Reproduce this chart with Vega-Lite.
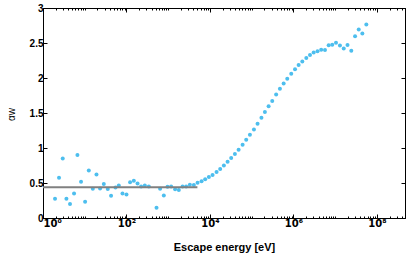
{
  "$schema": "https://vega.github.io/schema/vega-lite/v6.json",
  "width": 362,
  "height": 210,
  "autosize": {"type": "none"},
  "padding": {"left": 43, "top": 8, "right": 10, "bottom": 39},
  "config": {
    "view": {"stroke": "#000000", "strokeWidth": 1},
    "axis": {
      "grid": false,
      "domainColor": "#000000",
      "domainWidth": 1,
      "tickColor": "#000000",
      "labelColor": "#000000",
      "titleColor": "#000000",
      "labelFont": "Liberation Sans",
      "titleFont": "Liberation Sans",
      "labelFontSize": 10,
      "labelFontWeight": "bold",
      "titleFontSize": 11,
      "titleFontWeight": "bold"
    }
  },
  "datasets": {
    "pts": [
      {"E": 1.94, "a": 0.276}, {"E": 2.42, "a": 0.576}, {"E": 2.97, "a": 0.851}, {"E": 3.64, "a": 0.276},
      {"E": 4.44, "a": 0.2}, {"E": 5.54, "a": 0.351}, {"E": 6.68, "a": 0.9}, {"E": 8.15, "a": 0.519},
      {"E": 10.2, "a": 0.233}, {"E": 12.5, "a": 0.68}, {"E": 15.6, "a": 0.419}, {"E": 19.1, "a": 0.623},
      {"E": 23.3, "a": 0.423}, {"E": 28.6, "a": 0.486}, {"E": 35.6, "a": 0.414}, {"E": 42.7, "a": 0.319},
      {"E": 54.5, "a": 0.437}, {"E": 65.4, "a": 0.466}, {"E": 80.2, "a": 0.351}, {"E": 100, "a": 0.337},
      {"E": 122, "a": 0.509}, {"E": 150, "a": 0.533}, {"E": 184, "a": 0.494}, {"E": 224, "a": 0.451},
      {"E": 275, "a": 0.466}, {"E": 343, "a": 0.451}, {"E": 524, "a": 0.147}, {"E": 639, "a": 0.419},
      {"E": 784, "a": 0.323}, {"E": 962, "a": 0.447}, {"E": 1175, "a": 0.451}, {"E": 1463, "a": 0.409},
      {"E": 1795, "a": 0.4}, {"E": 2203, "a": 0.451}, {"E": 2687, "a": 0.451}, {"E": 3297, "a": 0.476},
      {"E": 4111, "a": 0.471}, {"E": 5045, "a": 0.504}, {"E": 6292, "a": 0.526}, {"E": 7674, "a": 0.554},
      {"E": 9418, "a": 0.587}, {"E": 11540, "a": 0.614}, {"E": 14390, "a": 0.657}, {"E": 17570, "a": 0.7},
      {"E": 21540, "a": 0.751}, {"E": 26420, "a": 0.804}, {"E": 32230, "a": 0.857}, {"E": 39540, "a": 0.914},
      {"E": 48510, "a": 0.976}, {"E": 60530, "a": 1.047}, {"E": 73840, "a": 1.119}, {"E": 90570, "a": 1.19},
      {"E": 113000, "a": 1.266}, {"E": 138000, "a": 1.347}, {"E": 171000, "a": 1.433}, {"E": 207000, "a": 1.514},
      {"E": 254000, "a": 1.597}, {"E": 310000, "a": 1.673}, {"E": 385000, "a": 1.764}, {"E": 474000, "a": 1.847},
      {"E": 582000, "a": 1.923}, {"E": 710000, "a": 1.99}, {"E": 885000, "a": 2.061}, {"E": 1090000, "a": 2.126},
      {"E": 1330000, "a": 2.186}, {"E": 1630000, "a": 2.237}, {"E": 2030000, "a": 2.286}, {"E": 2490000, "a": 2.329},
      {"E": 3050000, "a": 2.364}, {"E": 3770000, "a": 2.383}, {"E": 4620000, "a": 2.404}, {"E": 5690000, "a": 2.4},
      {"E": 6980000, "a": 2.469}, {"E": 8510000, "a": 2.476}, {"E": 10450000, "a": 2.504}, {"E": 13000000, "a": 2.466},
      {"E": 16000000, "a": 2.421}, {"E": 19700000, "a": 2.473}, {"E": 24300000, "a": 2.39}, {"E": 29900000, "a": 2.597},
      {"E": 36600000, "a": 2.694}, {"E": 44700000, "a": 2.637}, {"E": 55700000, "a": 2.764}
    ],
    "fit": [{"E": 1, "a": 0.44}, {"E": 5000, "a": 0.44}]
  },
  "resolve": {"axis": {"x": "independent", "y": "independent"}},
  "layer": [
    {
      "data": {"name": "pts"},
      "mark": {"type": "circle", "color": "#4DBEEE", "opacity": 1, "size": 16},
      "encoding": {
        "x": {
          "field": "E", "type": "quantitative",
          "scale": {"type": "log", "domain": [1, 470000000], "nice": false},
          "axis": {
            "orient": "bottom",
            "title": "Escape energy [eV]",
            "titleY": 29,
            "titleBaseline": "middle",
            "values": [1,2,3,4,5,6,7,8,9,10,20,30,40,50,60,70,80,90,100,200,300,400,500,600,700,800,900,1000,2000,3000,4000,5000,6000,7000,8000,9000,10000,20000,30000,40000,50000,60000,70000,80000,90000,100000,200000,300000,400000,500000,600000,700000,800000,900000,1000000,2000000,3000000,4000000,5000000,6000000,7000000,8000000,9000000,10000000,20000000,30000000,40000000,50000000,60000000,70000000,80000000,90000000,100000000,200000000,300000000,400000000],
            "labelExpr": "datum.value == 1 ? '10⁰' : datum.value == 100 ? '10²' : datum.value == 10000 ? '10⁴' : datum.value == 1000000 ? '10⁶' : datum.value == 100000000 ? '10⁸' : ''",
            "labelFont": "DejaVu Sans",
            "labelFontSize": 10,
            "labelOverlap": false,
            "labelPadding": 4,
            "tickSize": {"condition": {"test": "indexof([1,100,10000,1000000,100000000], datum.value) >= 0", "value": -4}, "value": -2}
          }
        },
        "y": {
          "field": "a", "type": "quantitative",
          "scale": {"domain": [0, 3], "nice": false},
          "axis": {
            "orient": "left",
            "title": "αw",
            "titleFontWeight": "normal",
            "titleFontSize": 10,
            "titleX": -32,
            "titleY": 106,
            "titleAlign": "center",
            "titleBaseline": "middle",
            "values": [0, 0.5, 1, 1.5, 2, 2.5, 3],
            "format": "~g",
            "labelPadding": 4,
            "tickSize": -4
          }
        }
      }
    },
    {
      "data": {"name": "fit"},
      "mark": {"type": "line", "color": "#808080", "strokeWidth": 2},
      "encoding": {
        "x": {
          "field": "E", "type": "quantitative",
          "axis": {
            "orient": "top",
            "title": null,
            "labels": false,
            "values": [1,2,3,4,5,6,7,8,9,10,20,30,40,50,60,70,80,90,100,200,300,400,500,600,700,800,900,1000,2000,3000,4000,5000,6000,7000,8000,9000,10000,20000,30000,40000,50000,60000,70000,80000,90000,100000,200000,300000,400000,500000,600000,700000,800000,900000,1000000,2000000,3000000,4000000,5000000,6000000,7000000,8000000,9000000,10000000,20000000,30000000,40000000,50000000,60000000,70000000,80000000,90000000,100000000,200000000,300000000,400000000],
            "tickSize": {"condition": {"test": "indexof([1,100,10000,1000000,100000000], datum.value) >= 0", "value": -4}, "value": -2}
          }
        },
        "y": {
          "field": "a", "type": "quantitative",
          "axis": {
            "orient": "right",
            "title": null,
            "labels": false,
            "values": [0, 0.5, 1, 1.5, 2, 2.5, 3],
            "tickSize": -4
          }
        }
      }
    }
  ]
}
